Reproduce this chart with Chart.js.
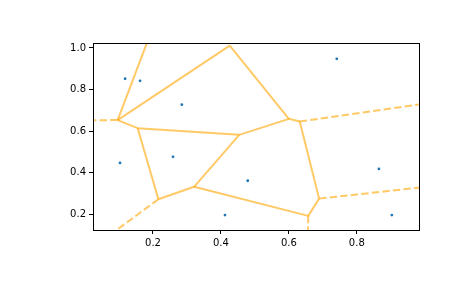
<!DOCTYPE html>
<html lang="en">
<head>
  <meta charset="UTF-8" />
  <title>Voronoi diagram</title>
  <style>
    body { margin: 0; background: #fff; }
    #wrap { width: 465px; height: 288px; }
  </style>
</head>
<body>
  <div id="wrap"><canvas id="voronoi" width="465" height="288"></canvas></div>

  <script src="https://cdn.jsdelivr.net/npm/chart.js"></script>
  <script>
    // input points
    const pointsX = [0.118, 0.162, 0.285, 0.741, 0.103, 0.259, 0.479, 0.412, 0.865, 0.903];
    const pointsY = [0.852, 0.842, 0.727, 0.948, 0.447, 0.476, 0.361, 0.196, 0.418, 0.196];

    // voronoi vertices (K lies above the visible area)
    const vertexX = [0.096, 0.155, 0.426, 0.454, 0.600, 0.632, 0.216, 0.321, 0.657, 0.689, 0.223];
    const vertexY = [0.653, 0.614, 1.011, 0.582, 0.659, 0.646, 0.272, 0.332, 0.192, 0.275, 1.200];

    // finite ridges: pairs of vertex indices
    const ridges = [[0, 10], [0, 2], [0, 1], [1, 3], [1, 6], [2, 4], [3, 4], [3, 7],
                    [6, 7], [7, 8], [8, 9], [9, 5], [4, 5]];

    // infinite ridges: start vertex, far end point
    const farStart = [0, 5, 9, 6, 8];
    const farX = [-0.05, 1.2, 1.2, -0.01, 0.655];
    const farY = [0.652, 0.779, 0.367, 0.0, 0.0];

    const xTicks = [0.2, 0.4, 0.6, 0.8];
    const yTicks = [0.2, 0.4, 0.6, 0.8, 1.0];

    Chart.defaults.font.family = "DejaVu Sans";
    Chart.defaults.font.size = 10;
    Chart.defaults.color = "#000";

    const edgeColor = "rgba(255, 165, 0, 0.6)";
    const datasets = [];

    ridges.forEach(([a, b]) => {
      datasets.push({
        data: [{ x: vertexX[a], y: vertexY[a] }, { x: vertexX[b], y: vertexY[b] }],
        showLine: true, borderColor: edgeColor, borderWidth: 2,
        pointRadius: 0, clip: 0
      });
    });

    farStart.forEach((v, i) => {
      datasets.push({
        data: [{ x: vertexX[v], y: vertexY[v] }, { x: farX[i], y: farY[i] }],
        showLine: true, borderColor: edgeColor, borderWidth: 2,
        borderDash: [7.4, 3.2], pointRadius: 0, clip: 0
      });
    });

    datasets.push({
      data: pointsX.map((x, i) => ({ x, y: pointsY[i] })),
      backgroundColor: "#1f77b4", borderColor: "#1f77b4",
      pointRadius: 1.4, borderWidth: 0, clip: 0
    });

    const frame = {
      id: "frame",
      afterDraw(chart) {
        const { ctx, chartArea: a } = chart;
        ctx.save();
        ctx.strokeStyle = "#000";
        ctx.lineWidth = 1;
        ctx.strokeRect(Math.round(a.left) + 0.5, Math.round(a.top) + 0.5,
                       Math.round(a.right - a.left), Math.round(a.bottom - a.top));
        ctx.restore();
      }
    };

    new Chart(document.getElementById("voronoi"), {
      type: "scatter",
      data: { datasets },
      plugins: [frame],
      options: {
        responsive: false,
        animation: false,
        layout: { padding: { left: 0, top: 43, right: 46, bottom: 0 } },
        plugins: { legend: { display: false }, tooltip: { enabled: false } },
        scales: {
          x: {
            min: 0.0235, max: 0.983,
            afterBuildTicks: s => { s.ticks = xTicks.map(value => ({ value })); },
            afterFit: s => { s.height = 58; },
            grid: { drawOnChartArea: false, color: "#000", tickLength: 4 },
            border: { display: false },
            ticks: { padding: 3, callback: v => v.toFixed(1) }
          },
          y: {
            min: 0.124, max: 1.024,
            afterBuildTicks: s => { s.ticks = yTicks.map(value => ({ value })); },
            afterFit: s => { s.width = 93; },
            grid: { drawOnChartArea: false, color: "#000", tickLength: 4 },
            border: { display: false },
            ticks: { padding: 3, callback: v => v.toFixed(1) }
          }
        }
      }
    });
  </script>
</body>
</html>
